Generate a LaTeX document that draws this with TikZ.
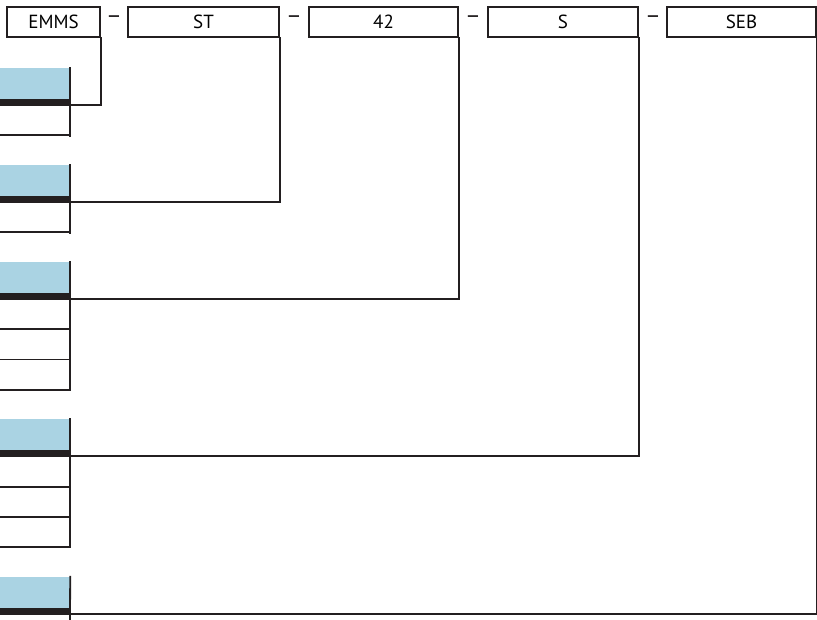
\documentclass[tikz,border=0pt]{standalone}
\usepackage{fontspec}
\setmainfont{PT Sans}
\definecolor{headblue}{HTML}{AAD3E3}
\definecolor{inkblack}{HTML}{231F20}

\begin{document}
\begin{tikzpicture}[x=1pt, y=-1pt, line cap=rect, line join=miter]

% --- Styles ---
\tikzset{
    rule/.style={
        draw=inkblack,
        line width=1.8pt
    },
    fieldbox/.style={
        draw=inkblack,
        line width=1.8pt,
        minimum height=30pt,
        inner sep=0pt,
        font=\fontsize{19}{22}\selectfont
    },
    sepdash/.style={
        inner sep=0pt,
        text=inkblack,
        font=\fontsize{24}{26}\selectfont
    },
    header/.style={
        fill=headblue,
        minimum width=70pt,
        minimum height=31pt,
        inner sep=0pt
    },
    band/.style={
        fill=inkblack
    }
}

\useasboundingbox (0,0) rectangle (817,619);

% =========================================================================
% --- Top row: field boxes ---
% =========================================================================
\node[fieldbox, minimum width=93pt]  (emms) at (53.5,22)  {EMMS};
\node[fieldbox, minimum width=151pt] (st)   at (203.5,22) {ST};
\node[fieldbox, minimum width=149pt] (n42)  at (383.5,22) {42};
\node[fieldbox, minimum width=150pt] (s)    at (563,22)   {S};
\node[fieldbox, minimum width=149pt] (seb)  at (741.5,22) {SEB};

\node[sepdash] (d1) at (114,20) {–};
\node[sepdash] (d2) at (294,20) {–};
\node[sepdash] (d3) at (473,20) {–};
\node[sepdash] (d4) at (653,20) {–};

% =========================================================================
% --- Left column: blocks ---
% =========================================================================

% --- Block 1 (one row) ---
\node[header] (hd1) at (35,83.5) {};
\fill[band] (hd1.south west) rectangle ++(70,7);
\draw[rule] (hd1.north east) -- ++(0,68);
\draw[rule] (0,135) -- (70,135);
\coordinate (j1) at ([yshift=-6pt]hd1.south east);

% --- Block 2 (one row) ---
\node[header] (hd2) at (35,180.5) {};
\fill[band] (hd2.south west) rectangle ++(70,7);
\draw[rule] (hd2.north east) -- ++(0,68);
\draw[rule] (0,232) -- (70,232);
\coordinate (j2) at ([yshift=-6pt]hd2.south east);

% --- Block 3 (three rows) ---
\node[header] (hd3) at (35,277.5) {};
\fill[band] (hd3.south west) rectangle ++(70,7);
\draw[rule] (hd3.north east) -- ++(0,128);
\foreach \yrow in {329,359.5,390}
    \draw[rule] (0,\yrow) -- (70,\yrow);
\coordinate (j3) at ([yshift=-6pt]hd3.south east);

% --- Block 4 (three rows) ---
\node[header] (hd4) at (35,434.5) {};
\fill[band] (hd4.south west) rectangle ++(70,7);
\draw[rule] (hd4.north east) -- ++(0,128);
\foreach \yrow in {487,517,547}
    \draw[rule] (0,\yrow) -- (70,\yrow);
\coordinate (j4) at ([yshift=-6pt]hd4.south east);

% --- Block 5 (cut off at the bottom) ---
\node[header] (hd5) at (35,592.5) {};
\fill[band] (hd5.south west) rectangle ++(70,7);
\draw[rule] (hd5.north east) -- (70,622);
\coordinate (j5) at ([yshift=-6pt]hd5.south east);

% =========================================================================
% --- Connectors: block to field box ---
% =========================================================================
\draw[rule] (j1) -| (emms.south east);
\draw[rule] (j2) -| (st.south east);
\draw[rule] (j3) -| (n42.south east);
\draw[rule] (j4) -| (s.south east);
\draw[rule] (j5) -| (seb.south east);

\end{tikzpicture}
\end{document}
